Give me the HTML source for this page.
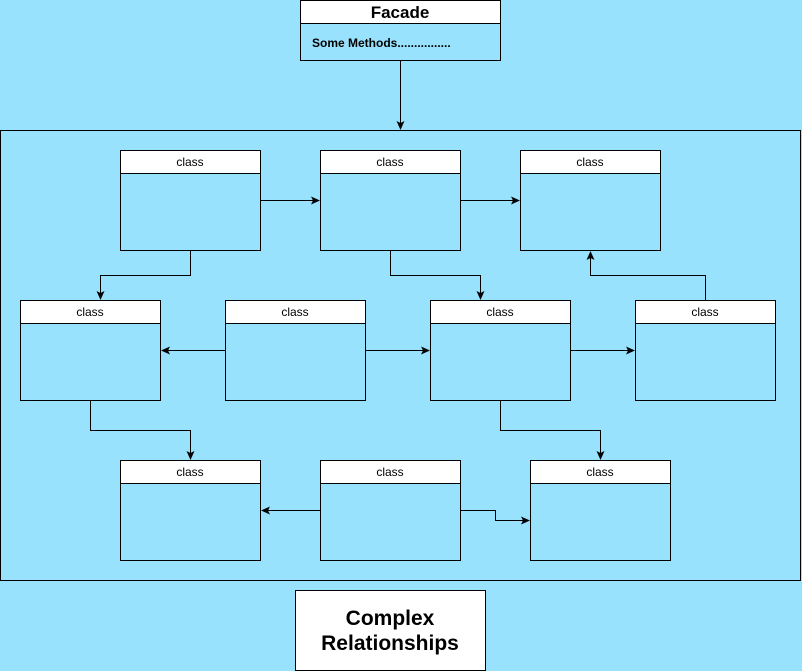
<!DOCTYPE html>
<html><head><meta charset="utf-8"><style>
html,body{margin:0;padding:0;background:#98E2FE;}
svg{display:block;}
text{font-family:"Liberation Sans",Arial,sans-serif;fill:#000;}
</style></head><body>
<svg width="802" height="671" viewBox="0 0 802 671" xmlns="http://www.w3.org/2000/svg">
<defs>
<marker id="a" markerWidth="10" markerHeight="10" refX="8" refY="4" orient="auto" markerUnits="userSpaceOnUse">
<path d="M0,0 L9,4 L0,8 L2,4 Z" fill="#000"/>
</marker>
</defs>
<rect x="0" y="0" width="802" height="671" fill="#98E2FE"/>
<rect x="0.5" y="130.5" width="800" height="450" fill="none" stroke="#000"/>
<rect x="300.5" y="0.5" width="200" height="60" fill="#98E2FE" stroke="#000"/>
<rect x="300.5" y="0.5" width="200" height="23" fill="#fff" stroke="#000"/>
<text x="400" y="18" font-size="17" font-weight="bold" text-anchor="middle">Facade</text>
<text x="312" y="47" font-size="12" font-weight="bold">Some Methods................</text>
<rect x="295.5" y="590.5" width="190" height="80" fill="#fff" stroke="#000"/>
<text x="390" y="625" font-size="21" font-weight="bold" text-anchor="middle">Complex</text>
<text x="390" y="650" font-size="21" font-weight="bold" text-anchor="middle">Relationships</text>
<g stroke="#000">
<rect x="120.5" y="150.5" width="140" height="100" fill="#98E2FE"/><rect x="120.5" y="150.5" width="140" height="23" fill="#fff"/>
<rect x="320.5" y="150.5" width="140" height="100" fill="#98E2FE"/><rect x="320.5" y="150.5" width="140" height="23" fill="#fff"/>
<rect x="520.5" y="150.5" width="140" height="100" fill="#98E2FE"/><rect x="520.5" y="150.5" width="140" height="23" fill="#fff"/>
<rect x="20.5" y="300.5" width="140" height="100" fill="#98E2FE"/><rect x="20.5" y="300.5" width="140" height="23" fill="#fff"/>
<rect x="225.5" y="300.5" width="140" height="100" fill="#98E2FE"/><rect x="225.5" y="300.5" width="140" height="23" fill="#fff"/>
<rect x="430.5" y="300.5" width="140" height="100" fill="#98E2FE"/><rect x="430.5" y="300.5" width="140" height="23" fill="#fff"/>
<rect x="635.5" y="300.5" width="140" height="100" fill="#98E2FE"/><rect x="635.5" y="300.5" width="140" height="23" fill="#fff"/>
<rect x="120.5" y="460.5" width="140" height="100" fill="#98E2FE"/><rect x="120.5" y="460.5" width="140" height="23" fill="#fff"/>
<rect x="320.5" y="460.5" width="140" height="100" fill="#98E2FE"/><rect x="320.5" y="460.5" width="140" height="23" fill="#fff"/>
<rect x="530.5" y="460.5" width="140" height="100" fill="#98E2FE"/><rect x="530.5" y="460.5" width="140" height="23" fill="#fff"/>
</g>
<g font-size="12" text-anchor="middle">
<text x="190" y="166">class</text><text x="390" y="166">class</text><text x="590" y="166">class</text>
<text x="90" y="316">class</text><text x="295" y="316">class</text><text x="500" y="316">class</text><text x="705" y="316">class</text>
<text x="190" y="476">class</text><text x="390" y="476">class</text><text x="600" y="476">class</text>
</g>
<g stroke="#000" fill="none" stroke-width="1">
<path d="M400.5,61 L400.5,129" marker-end="url(#a)"/>
<path d="M261,200.5 L319,200.5" marker-end="url(#a)"/>
<path d="M461,200.5 L519,200.5" marker-end="url(#a)"/>
<path d="M190.5,251 V275.5 H100.5 V299" marker-end="url(#a)"/>
<path d="M390.5,251 V275.5 H480.5 V299" marker-end="url(#a)"/>
<path d="M705.5,300 V275.5 H590.5 V252" marker-end="url(#a)"/>
<path d="M225,350.5 H162" marker-end="url(#a)"/>
<path d="M366,350.5 H429" marker-end="url(#a)"/>
<path d="M571,350.5 H634" marker-end="url(#a)"/>
<path d="M90.5,401 V430.5 H190.5 V459" marker-end="url(#a)"/>
<path d="M500.5,401 V430.5 H600.5 V459" marker-end="url(#a)"/>
<path d="M320,510.5 H262" marker-end="url(#a)"/>
<path d="M461,510.5 H495.5 V520.5 H529" marker-end="url(#a)"/>
</g>
</svg>
</body></html>
